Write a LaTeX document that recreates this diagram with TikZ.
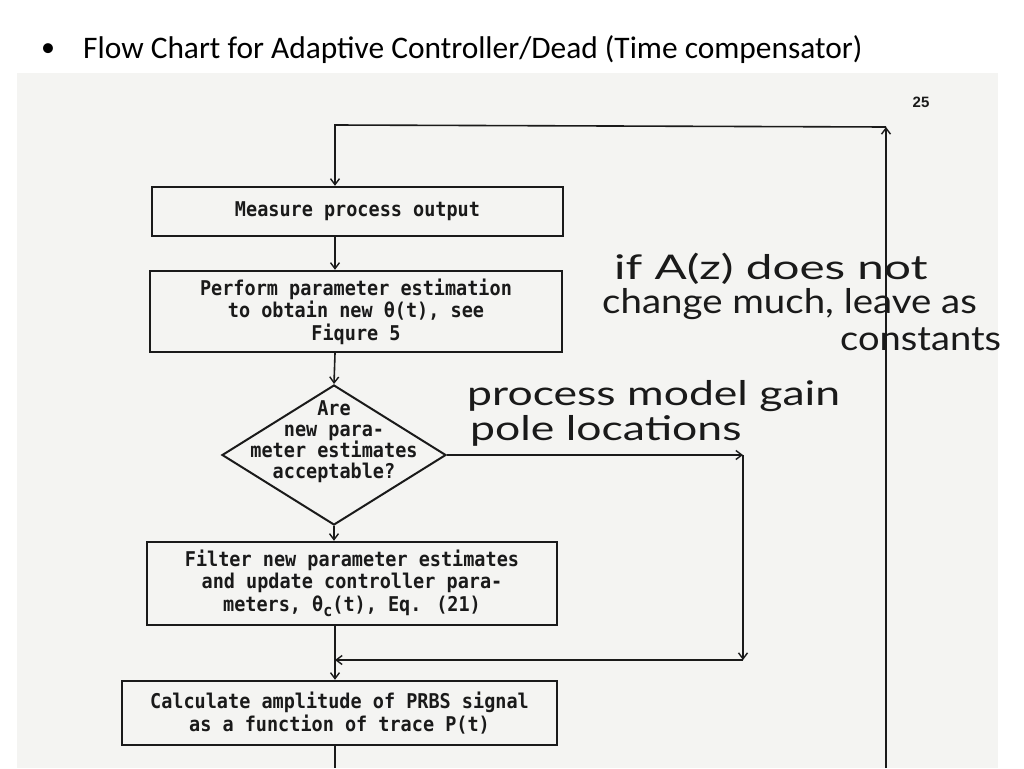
\documentclass[tikz,border=0pt]{standalone}
\usepackage{fontspec}
\setmainfont{Carlito}
\newfontfamily\typew{DejaVu Sans Mono}
\newfontfamily\handw{Lato}
\newfontfamily\pagenum{Liberation Sans}
\usetikzlibrary{arrows.meta,shapes.geometric,calc}
\definecolor{scan}{HTML}{F4F4F2}
\definecolor{ink}{HTML}{1A1A1A}
\newcommand{\tall}[1]{\scalebox{1}[1.1]{#1}}
\begin{document}
\begin{tikzpicture}[x=1pt,y=-1pt,
  stepbox/.style={draw=ink,line width=2.4pt,rectangle,inner sep=0pt,
    font=\typew\bfseries\fontsize{18.5}{22.5}\selectfont,align=center,text=ink},
  decide/.style={draw=ink,line width=2pt,diamond,inner sep=0pt},
  dtext/.style={font=\typew\bfseries\fontsize{18.5}{21}\selectfont,align=center,text=ink,inner sep=0pt},
  flow/.style={draw=ink,line width=1.6pt,-{Straight Barb[length=6pt,width=9pt,line width=1.4pt]}},
  plain/.style={draw=ink,line width=1.6pt},
  note/.style={font=\handw\fontsize{34}{38}\selectfont,text=ink,anchor=base west,inner sep=0pt}]
\useasboundingbox (0,0) rectangle (1024,768);
\fill[white] (0,0) rectangle (1024,768);
\fill[scan] (17,73) rectangle (998,768);
% title
\node[inner sep=0pt,font=\fontsize{28}{34}\selectfont] (bullet) at (48,50) {•};
\node[anchor=west,inner sep=0pt,font=\fontsize{31.4}{38}\selectfont] (title) at (83,50) {Flow Chart for Adaptive Controller/Dead (Time compensator)};
\node[font=\pagenum\bfseries\fontsize{15}{18}\selectfont,text=ink,inner sep=0pt] (pnum) at (921,102) {25};
% boxes
\node[stepbox,minimum width=411pt,minimum height=49pt] (m1) at (357.5,211.5) {\tall{Measure process output}};
\node[stepbox,minimum width=412pt,minimum height=81pt] (m2) at (356,311.5) {\tall{Perform parameter estimation}\\\tall{to obtain new θ(t), see}\\\tall{Fiqure 5}};
\node[decide,minimum width=224pt,minimum height=140pt] (d) at (334,455) {};
\node[dtext] (dt) at ($(d.center)+(0,-13)$) {\tall{Are}\\\tall{new para-}\\\tall{meter estimates}\\\tall{acceptable?}};
\node[stepbox,minimum width=410pt,minimum height=83pt] (m3) at (352,583.5) {\tall{Filter new parameter estimates}\\\tall{and update controller para-}\\\tall{meters, θ\raisebox{-5pt}{\fontsize{15}{15}\selectfont c}(t), Eq. (21)}};
\node[stepbox,minimum width=435pt,minimum height=64pt] (m4) at (339.5,713) {\tall{Calculate amplitude of PRBS signal}\\\tall{as a function of trace P(t)}};
% loop coordinates
\coordinate (tl) at (335,125);
\coordinate (tr) at (886,127);
\coordinate (rb) at (886,768);
\coordinate (ya) at (743,458);
\coordinate (yb) at (743,660);
\coordinate (bot) at (335,768);
% connectors
\draw[flow] (rb) -- (tr);
\draw[flow] (tr) -- (tl) -- (tl |- m1.north);
\draw[flow] (m1.south -| tl) -- (m2.north -| tl);
\draw[flow] (m2.south -| tl) -- (d.north);
\draw[flow] (d.east) -- (d.east -| ya);
\draw[flow] (d.east -| ya) -- (yb);
\draw[flow] (yb) -- (yb -| tl);
\draw[flow] (d.south) -- (m3.north -| d.south);
\draw[flow] (m3.south -| tl) -- (m4.north -| tl);
\draw[plain] (m4.south -| tl) -- (bot);
% handwritten notes
\node[note] (n1) at (614,279) {\scalebox{1.40}[1]{if A(z) does not}};
\node[note] (n2) at (602,313) {\scalebox{1.13}[1]{change much, leave as}};
\node[note] (n3) at (840,350) {\scalebox{1.12}[1]{constants}};
\node[note] (n4) at (467,405) {\scalebox{1.31}[1]{process model gain}};
\node[note] (n5) at (470,440) {\scalebox{1.31}[1]{pole locations}};
\end{tikzpicture}
\end{document}
